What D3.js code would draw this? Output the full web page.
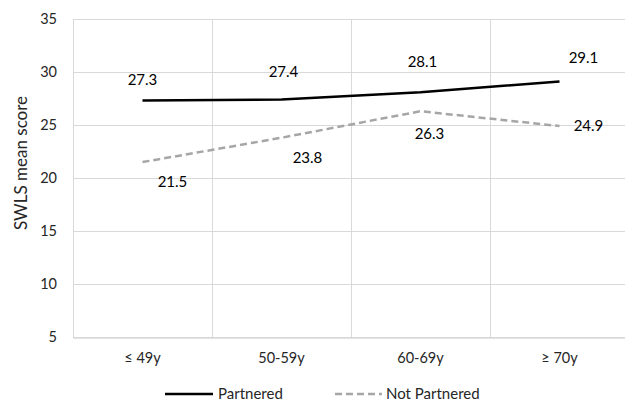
<!DOCTYPE html>
<html>
<head>
<meta charset="utf-8">
<script src="https://cdn.jsdelivr.net/npm/d3@7"></script>
<style>
  body { margin: 0; background: #fff; }
  svg { font-family: Lato, "Open Sans", sans-serif; }
</style>
</head>
<body>
<svg></svg>
<script>
var ageGroups = ["≤ 49y", "50-59y", "60-69y", "≥ 70y"];
var partnered = [27.3, 27.4, 28.1, 29.1];
var notPartnered = [21.5, 23.8, 26.3, 24.9];
var yTicks = [5, 10, 15, 20, 25, 30, 35];

// label nudges (px) to mimic the original placement
var partneredOffsets = [[0, -21], [2, -28], [2, -30], [24, -24]];
var notPartneredOffsets = [[30, 20], [26, 20], [9, 23], [29, 0]];

var svgWidth = 625, svgHeight = 401;
var margin = { left: 73, right: -4, top: 19, bottom: 64 };

var svg = d3.select("svg")
  .attr("width", svgWidth)
  .attr("height", svgHeight);

var x = d3.scaleBand()
  .domain(ageGroups)
  .range([margin.left, svgWidth - margin.right]);

var y = d3.scaleLinear()
  .domain([5, 35])
  .range([svgHeight - margin.bottom, margin.top]);

var gridColor = "#d9d9d9";

// horizontal gridlines
svg.append("g")
  .selectAll("line")
  .data(yTicks)
  .enter()
  .append("line")
  .attr("x1", margin.left)
  .attr("x2", svgWidth - margin.right)
  .attr("y1", d => Math.round(y(d)) + 0.5)
  .attr("y2", d => Math.round(y(d)) + 0.5)
  .attr("stroke", gridColor)
  .attr("stroke-width", 1);

// vertical gridlines at band edges
svg.append("g")
  .selectAll("line")
  .data(ageGroups)
  .enter()
  .append("line")
  .attr("x1", d => Math.round(x(d)) + 0.5)
  .attr("x2", d => Math.round(x(d)) + 0.5)
  .attr("y1", y(35))
  .attr("y2", y(5))
  .attr("stroke", gridColor)
  .attr("stroke-width", 1);

// y axis labels
var yAxis = d3.axisLeft(y).tickValues(yTicks).tickSize(0).tickPadding(16);
svg.append("g")
  .attr("transform", "translate(" + margin.left + ",0)")
  .call(yAxis)
  .call(g => g.select(".domain").remove())
  .selectAll("text")
    .attr("font-family", "Lato, sans-serif")
    .attr("font-size", "14.5px")
    .attr("fill", "#262626");

// x axis
var xAxis = d3.axisBottom(x).tickSize(0).tickPadding(15);
svg.append("g")
  .attr("transform", "translate(0," + (Math.round(y(5)) + 0.5) + ")")
  .call(xAxis)
  .call(g => g.select(".domain").attr("stroke", gridColor).attr("stroke-width", 1.5))
  .selectAll("text")
    .attr("font-family", "Lato, sans-serif")
    .attr("font-size", "14.5px")
    .attr("fill", "#262626");

// y axis title
svg.append("text")
  .attr("transform", "translate(27," + 163 + ")rotate(-90)")
  .attr("text-anchor", "middle")
  .attr("font-size", "17px")
  .attr("fill", "#262626")
  .text("SWLS mean score");

var line = d3.line()
  .x((d, i) => x(ageGroups[i]) + x.bandwidth() / 2)
  .y(d => y(d));

svg.append("path")
  .datum(notPartnered)
  .attr("d", line)
  .attr("fill", "none")
  .attr("stroke", "#a6a6a6")
  .attr("stroke-width", 2.5)
  .attr("stroke-dasharray", "7,4");

svg.append("path")
  .datum(partnered)
  .attr("d", line)
  .attr("fill", "none")
  .attr("stroke", "#000")
  .attr("stroke-width", 2.5);

function addLabels(values, offsets) {
  svg.append("g")
    .selectAll("text")
    .data(values)
    .enter()
    .append("text")
    .attr("x", (d, i) => x(ageGroups[i]) + x.bandwidth() / 2 + offsets[i][0])
    .attr("y", (d, i) => y(d) + offsets[i][1])
    .attr("dy", "0.35em")
    .attr("text-anchor", "middle")
    .attr("font-size", "15px")
    .attr("fill", "#000")
    .text(d => d.toFixed(1));
}
addLabels(partnered, partneredOffsets);
addLabels(notPartnered, notPartneredOffsets);

// legend
var legend = svg.append("g").attr("transform", "translate(0,394)");
legend.append("line")
  .attr("x1", 165).attr("x2", 213)
  .attr("stroke", "#000").attr("stroke-width", 2.5);
legend.append("text")
  .attr("x", 218).attr("dy", "0.35em")
  .attr("font-size", "15px").attr("fill", "#262626")
  .text("Partnered");
legend.append("line")
  .attr("x1", 335).attr("x2", 382)
  .attr("stroke", "#a6a6a6").attr("stroke-width", 2.5)
  .attr("stroke-dasharray", "7,4");
legend.append("text")
  .attr("x", 386).attr("dy", "0.35em")
  .attr("font-size", "15px").attr("fill", "#262626")
  .text("Not Partnered");
</script>
</body>
</html>
